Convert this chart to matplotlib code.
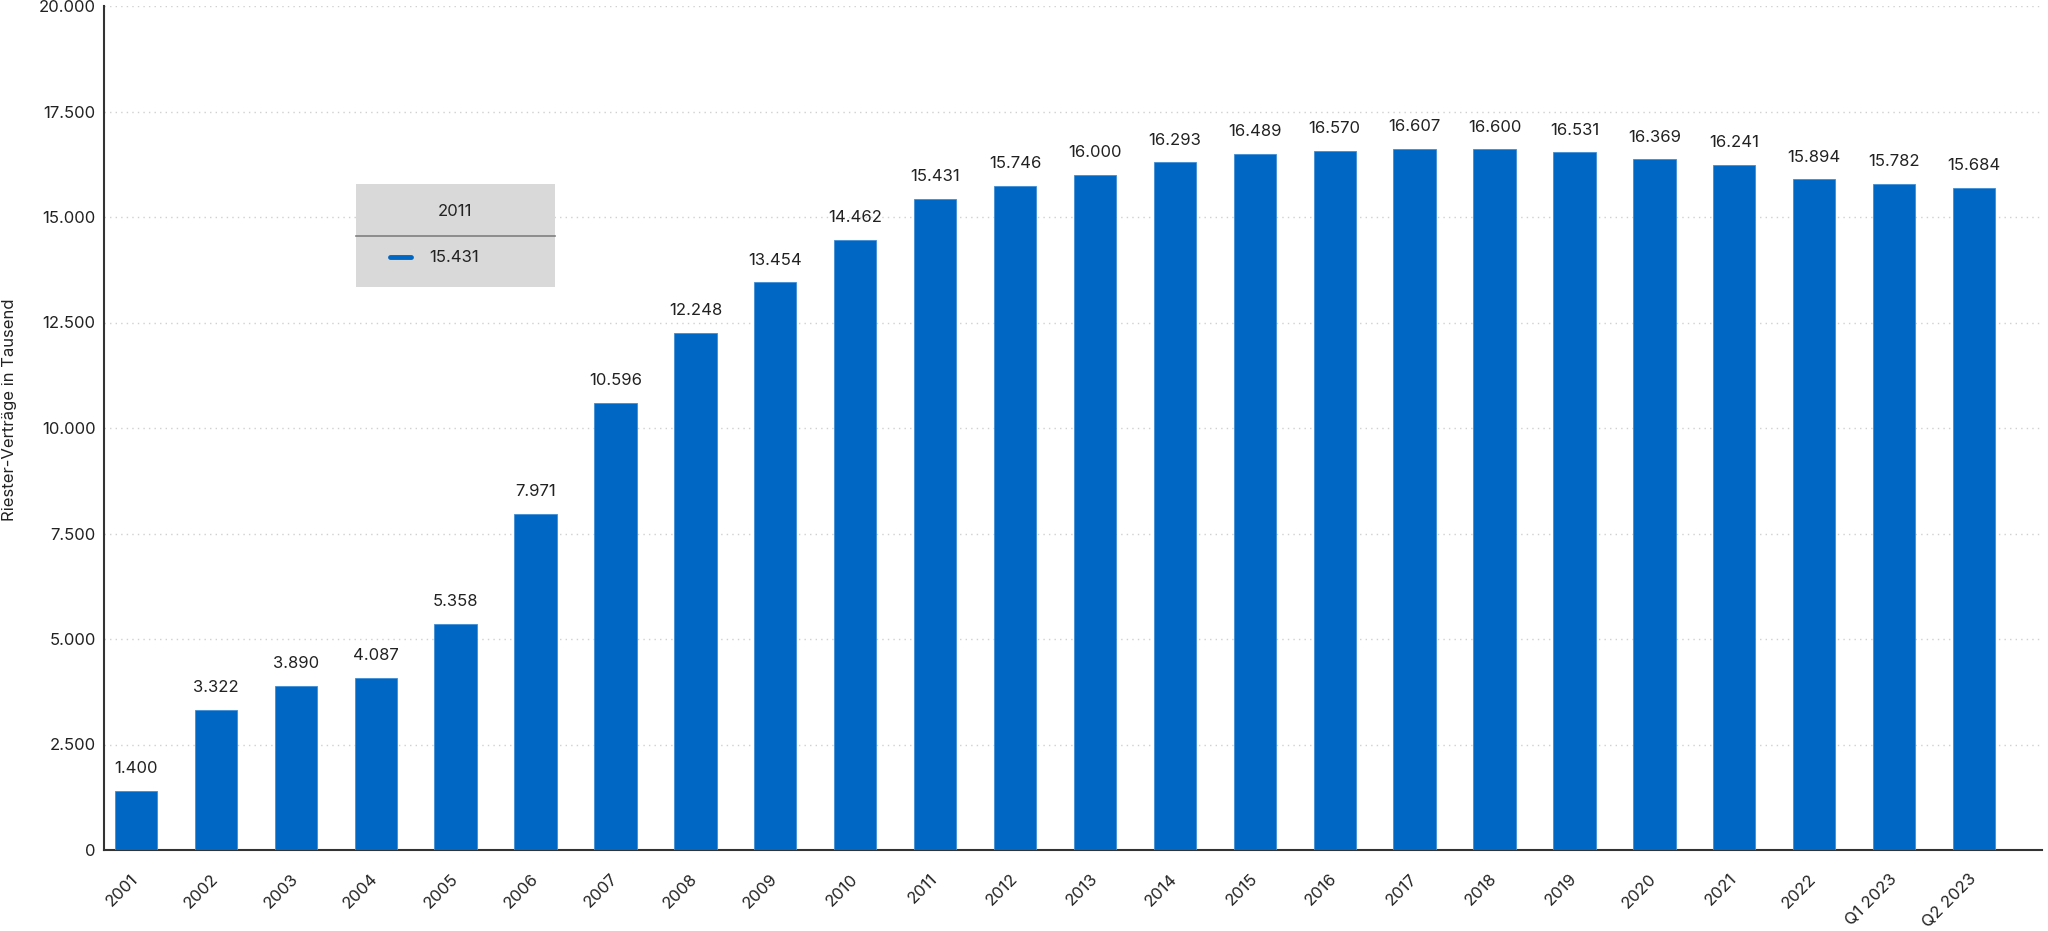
import matplotlib
matplotlib.use("Agg")
import matplotlib.pyplot as plt
from matplotlib.patches import Rectangle
from matplotlib.lines import Line2D
from matplotlib.ticker import FuncFormatter, MultipleLocator

plt.rcParams['font.family'] = ['Inter', 'DejaVu Sans']

categories = ["2001", "2002", "2003", "2004", "2005", "2006", "2007", "2008", "2009", "2010",
              "2011", "2012", "2013", "2014", "2015", "2016", "2017", "2018", "2019", "2020",
              "2021", "2022", "Q1 2023", "Q2 2023"]
values = [1400, 3322, 3890, 4087, 5358, 7971, 10596, 12248, 13454, 14462,
          15431, 15746, 16000, 16293, 16489, 16570, 16607, 16600, 16531, 16369,
          16241, 15894, 15782, 15684]
y_label = "Riester-Verträge in Tausend"
tooltip_index = 10

def de(v):
    return f"{int(v):,}".replace(",", ".")

W, H = 2048, 931
fig = plt.figure(figsize=(W / 100, H / 100), dpi=100)
ax = fig.add_axes([104 / W, 1 - 850 / H, (2042 - 104) / W, (850 - 6) / H])

bar_color = "#0068C4"
x = list(range(len(categories)))
ax.bar(x, values, width=0.53, color=bar_color, edgecolor="#3f8fd8", linewidth=0.6, zorder=3)

for xi, v in zip(x, values):
    ax.annotate(de(v), (xi, v), xytext=(0, 16), textcoords="offset points",
                ha="center", va="center", fontsize=12, color="#222222", zorder=4)

ax.set_xlim(-0.40, len(categories) - 1 + 0.85)
ax.set_ylim(0, 20000)
ax.yaxis.set_major_locator(MultipleLocator(2500))
ax.yaxis.set_major_formatter(FuncFormatter(lambda v, p: de(v)))
ax.set_xticks(x)
ax.set_xticklabels(categories, rotation=45, ha="right", va="center", rotation_mode="anchor")
ax.tick_params(axis="both", length=0, labelsize=12, colors="#222222")
ax.tick_params(axis="y", pad=6)
ax.tick_params(axis="x", pad=19)

ax.grid(axis="y", linestyle=(0, (1, 3)), color="#d0d0d0", linewidth=1, zorder=0)
ax.set_axisbelow(True)
for s in ["top", "right"]:
    ax.spines[s].set_visible(False)
for s in ["left", "bottom"]:
    ax.spines[s].set_color("#333333")
    ax.spines[s].set_linewidth(1.5)

fig.text(10 / W, 1 - 410 / H, y_label, rotation=90, ha="center", va="center",
         fontsize=12, color="#222222")

# tooltip box
bx0, bx1, by0, by1 = 356, 555, 184, 287
fig.add_artist(Rectangle((bx0 / W, 1 - by1 / H), (bx1 - bx0) / W, (by1 - by0) / H,
                         transform=fig.transFigure, facecolor="#d9d9d9", edgecolor="none", zorder=5))
fig.add_artist(Line2D([bx0 / W, bx1 / W], [1 - 236 / H, 1 - 236 / H], transform=fig.transFigure,
                      color="#808080", linewidth=1.2, zorder=6))
fig.text(455 / W, 1 - 211 / H, categories[tooltip_index], ha="center", va="center",
         fontsize=12, color="#222222", zorder=6)
fig.add_artist(Line2D([390 / W, 411 / W], [1 - 257 / H, 1 - 257 / H], transform=fig.transFigure,
                      color=bar_color, linewidth=3.5, solid_capstyle="round", zorder=6))
fig.text(429 / W, 1 - 257 / H, de(values[tooltip_index]), ha="left", va="center",
         fontsize=12, color="#222222", zorder=6)

fig.savefig("out.png", dpi=100, facecolor="white")
